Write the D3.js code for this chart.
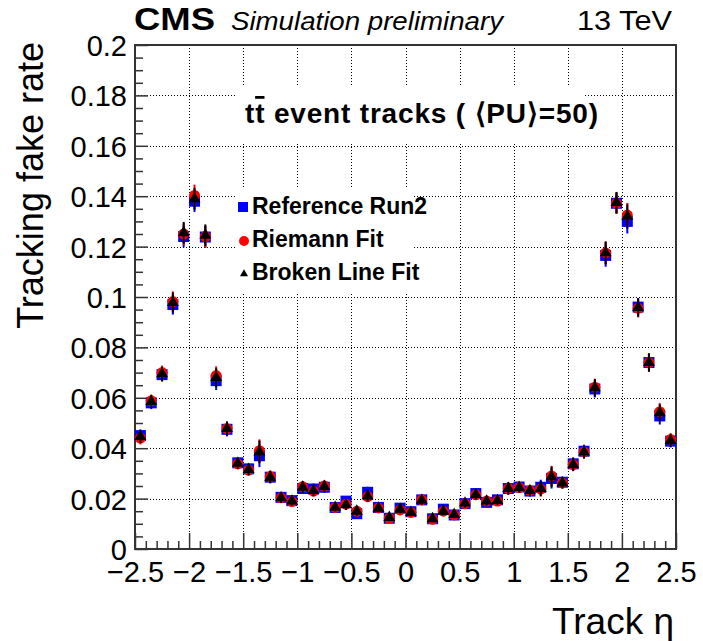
<!doctype html>
<html>
<head>
<meta charset="utf-8">
<script src="https://d3js.org/d3.v7.min.js"></script>
<style>
    body { margin: 0; background: #fff; }
    text { font-family: "Liberation Sans", Arial, Helvetica, sans-serif; fill: #000; }
</style>
</head>
<body>
<svg id="chart" width="703" height="641"></svg>
<script>
    // bin centres in eta (50 bins of 0.1)
    var eta = [-2.45, -2.35, -2.25, -2.15, -2.05, -1.95, -1.85, -1.75, -1.65, -1.55,
               -1.45, -1.35, -1.25, -1.15, -1.05, -0.95, -0.85, -0.75, -0.65, -0.55,
               -0.45, -0.35, -0.25, -0.15, -0.05, 0.05, 0.15, 0.25, 0.35, 0.45,
               0.55, 0.65, 0.75, 0.85, 0.95, 1.05, 1.15, 1.25, 1.35, 1.45,
               1.55, 1.65, 1.75, 1.85, 1.95, 2.05, 2.15, 2.25, 2.35, 2.45];

    var refRun2 = [0.0450, 0.0580, 0.0692, 0.0970, 0.1240, 0.1380, 0.1238, 0.0668, 0.0475, 0.0342,
                   0.0318, 0.0370, 0.0285, 0.0205, 0.0192, 0.0240, 0.0238, 0.0245, 0.0165, 0.0190,
                   0.0140, 0.0225, 0.0165, 0.0122, 0.0162, 0.0148, 0.0195, 0.0120, 0.0158, 0.0135,
                   0.0180, 0.0220, 0.0185, 0.0195, 0.0240, 0.0246, 0.0230, 0.0245, 0.0280, 0.0265,
                   0.0338, 0.0388, 0.0635, 0.1165, 0.1372, 0.1300, 0.0960, 0.0740, 0.0528, 0.0428];

    var riemannFit = [0.0440, 0.0588, 0.0700, 0.0982, 0.1250, 0.1403, 0.1240, 0.0688, 0.0478, 0.0338,
                      0.0313, 0.0390, 0.0288, 0.0203, 0.0188, 0.0247, 0.0230, 0.0250, 0.0165, 0.0178,
                      0.0150, 0.0208, 0.0163, 0.0122, 0.0155, 0.0145, 0.0195, 0.0118, 0.0150, 0.0135,
                      0.0180, 0.0215, 0.0190, 0.0190, 0.0240, 0.0244, 0.0232, 0.0238, 0.0290, 0.0262,
                      0.0335, 0.0385, 0.0642, 0.1175, 0.1372, 0.1325, 0.0955, 0.0740, 0.0545, 0.0435];

    var brokenLineFit = [0.0446, 0.0585, 0.0695, 0.0978, 0.1255, 0.1390, 0.1245, 0.0680, 0.0478, 0.0340,
                         0.0315, 0.0385, 0.0285, 0.0203, 0.0190, 0.0245, 0.0232, 0.0248, 0.0165, 0.0175,
                         0.0150, 0.0210, 0.0162, 0.0125, 0.0158, 0.0145, 0.0193, 0.0120, 0.0150, 0.0137,
                         0.0182, 0.0216, 0.0190, 0.0192, 0.0240, 0.0244, 0.0232, 0.0240, 0.0287, 0.0262,
                         0.0335, 0.0385, 0.0640, 0.1175, 0.1375, 0.1320, 0.0958, 0.0740, 0.0540, 0.0430];

    // statistical uncertainty per bin
    var errors = [0.0025, 0.0025, 0.0028, 0.0040, 0.0043, 0.0043, 0.0043, 0.0037, 0.0028, 0.0022,
                  0.0022, 0.0045, 0.0024, 0.0020, 0.0018, 0.0022, 0.0022, 0.0022, 0.0016, 0.0020,
                  0.0018, 0.0022, 0.0016, 0.0015, 0.0016, 0.0015, 0.0018, 0.0014, 0.0016, 0.0015,
                  0.0018, 0.0020, 0.0018, 0.0018, 0.0024, 0.0020, 0.0022, 0.0030, 0.0040, 0.0022,
                  0.0026, 0.0026, 0.0034, 0.0045, 0.0042, 0.0048, 0.0036, 0.0036, 0.0034, 0.0025];

    var xTicks = [-2.5, -2, -1.5, -1, -0.5, 0, 0.5, 1, 1.5, 2, 2.5];
    var xTickLabels = ["\u22122.5", "\u22122", "\u22121.5", "\u22121", "\u22120.5", "0", "0.5", "1", "1.5", "2", "2.5"];
    var yTicks = [0, 0.02, 0.04, 0.06, 0.08, 0.1, 0.12, 0.14, 0.16, 0.18, 0.2];
    var yTickLabels = ["0", "0.02", "0.04", "0.06", "0.08", "0.1", "0.12", "0.14", "0.16", "0.18", "0.2"];

    var seriesNames = ["Reference Run2", "Riemann Fit", "Broken Line Fit"];

    var svg = d3.select("#chart"),
        pLeft = 135, pRight = 676, pTop = 45, pBottom = 549;

    var x = d3.scaleLinear().domain([-2.5, 2.5]).range([pLeft, pRight]),
        y = d3.scaleLinear().domain([0, 0.2]).range([pBottom, pTop]);

    // grid
    var grid = svg.append("g").attr("stroke", "#000").attr("stroke-width", 1)
                  .attr("stroke-dasharray", "1,2");
    grid.selectAll(".gx").data(xTicks.slice(1, -1)).enter().append("line")
        .attr("x1", function(d) { return Math.round(x(d)) + 0.5; })
        .attr("x2", function(d) { return Math.round(x(d)) + 0.5; })
        .attr("y1", pTop).attr("y2", pBottom);
    grid.selectAll(".gy").data(yTicks.slice(1, -1)).enter().append("line")
        .attr("y1", function(d) { return Math.round(y(d)) + 0.5; })
        .attr("y2", function(d) { return Math.round(y(d)) + 0.5; })
        .attr("x1", pLeft).attr("x2", pRight);

    // white boxes behind the label and legend
    svg.append("rect").attr("x", 237).attr("y", 87).attr("width", 346).attr("height", 55).attr("fill", "#fff");
    svg.append("rect").attr("x", 235).attr("y", 188).attr("width", 178).attr("height", 105).attr("fill", "#fff");

    // axes
    var xMinor = x.ticks(50).filter(function(t) { return xTicks.indexOf(+t.toFixed(2)) < 0; });
    var yMinor = y.ticks(40).filter(function(t) { return yTicks.indexOf(+t.toFixed(3)) < 0; });

    svg.append("g")
       .attr("transform", "translate(0," + pBottom + ")")
       .call(d3.axisBottom(x).tickValues(xTicks).tickSizeInner(-16).tickSizeOuter(0).tickPadding(12)
             .tickFormat(function(d, i) { return xTickLabels[i]; }));
    svg.append("g")
       .attr("transform", "translate(0," + pBottom + ")")
       .call(d3.axisBottom(x).tickValues(xMinor).tickSizeInner(-8).tickSizeOuter(0).tickFormat(""));

    var yAxis = svg.append("g")
       .attr("transform", "translate(" + pLeft + ",0)")
       .call(d3.axisLeft(y).tickValues(yTicks).tickSizeInner(-13).tickSizeOuter(0).tickPadding(8)
             .tickFormat(function(d, i) { return yTickLabels[i]; }));
    svg.append("g")
       .attr("transform", "translate(" + pLeft + ",0)")
       .call(d3.axisLeft(y).tickValues(yMinor).tickSizeInner(-8).tickSizeOuter(0).tickFormat(""));

    svg.selectAll(".domain").remove();
    svg.selectAll(".tick line").attr("stroke", "#333").attr("stroke-width", 1.5);
    svg.selectAll(".tick text").attr("font-size", "29px")
       .attr("font-family", "'Liberation Sans', Arial, sans-serif").attr("fill", "#000");
    yAxis.selectAll(".tick text").attr("dy", "0.36em");

    // frame
    svg.append("rect").attr("x", pLeft).attr("y", pTop)
       .attr("width", pRight - pLeft).attr("height", pBottom - pTop)
       .attr("fill", "none").attr("stroke", "#333").attr("stroke-width", 2);

    // data series
    var rows = eta.map(function(e, i) {
        return { eta: e, ref: refRun2[i], rie: riemannFit[i], bro: brokenLineFit[i], err: errors[i] };
    });

    function errorBars(key, color) {
        svg.append("g").selectAll("line").data(rows).enter().append("line")
           .attr("x1", function(d) { return x(d.eta); })
           .attr("x2", function(d) { return x(d.eta); })
           .attr("y1", function(d) { return y(d[key] - d.err); })
           .attr("y2", function(d) { return y(d[key] + d.err); })
           .attr("stroke", color).attr("stroke-width", 2);
    }

    errorBars("ref", "#0000ff");
    svg.append("g").selectAll("rect").data(rows).enter().append("rect")
       .attr("x", function(d) { return x(d.eta) - 5.5; })
       .attr("y", function(d) { return y(d.ref) - 5.5; })
       .attr("width", 11).attr("height", 11)
       .attr("fill", "#0000ff");

    errorBars("rie", "#ff0000");
    svg.append("g").selectAll("circle").data(rows).enter().append("circle")
       .attr("cx", function(d) { return x(d.eta); })
       .attr("cy", function(d) { return y(d.rie); })
       .attr("r", 5.5)
       .attr("fill", "#ff0000");

    errorBars("bro", "#000");
    var tri = d3.symbol().type(d3.symbolTriangle).size(62);
    svg.append("g").selectAll("path").data(rows).enter().append("path")
       .attr("d", tri)
       .attr("transform", function(d) { return "translate(" + x(d.eta) + "," + y(d.bro) + ")"; })
       .attr("fill", "#000");

    // legend
    var legend = svg.append("g");
    legend.append("rect").attr("x", 238).attr("y", 202).attr("width", 10).attr("height", 10).attr("fill", "#0000ff");
    legend.append("circle").attr("cx", 244).attr("cy", 241).attr("r", 5).attr("fill", "#ff0000");
    legend.append("path").attr("d", d3.symbol().type(d3.symbolTriangle).size(28))
          .attr("transform", "translate(244,274)").attr("fill", "#000");
    legend.selectAll("text").data(seriesNames).enter().append("text")
          .attr("x", 252)
          .attr("y", function(d, i) { return 214 + i * 33; })
          .attr("font-size", "23px").attr("font-weight", "bold")
          .text(function(d) { return d; });

    // label in plot
    var lbl = svg.append("text").attr("x", 245).attr("y", 123)
       .attr("font-size", "28px").attr("font-weight", "bold")
       .attr("textLength", 353).attr("lengthAdjust", "spacing");
    lbl.append("tspan").text("t");
    lbl.append("tspan").style("text-decoration", "overline").text("t");
    lbl.append("tspan").text(" event tracks ( \u27E8PU\u27E9=50)");

    // header
    svg.append("text").attr("x", 134).attr("y", 30)
       .attr("font-size", "31px").attr("font-weight", "bold")
       .attr("textLength", 81).attr("lengthAdjust", "spacingAndGlyphs")
       .text("CMS");
    svg.append("text").attr("x", 231).attr("y", 30)
       .attr("font-size", "26px").attr("font-style", "italic")
       .attr("textLength", 272).attr("lengthAdjust", "spacingAndGlyphs")
       .text("Simulation preliminary");
    svg.append("text").attr("x", 577).attr("y", 30)
       .attr("font-size", "27px")
       .attr("textLength", 95).attr("lengthAdjust", "spacingAndGlyphs")
       .text("13 TeV");

    // axis titles
    svg.append("text")
       .attr("transform", "translate(43,42) rotate(-90)")
       .attr("text-anchor", "end")
       .attr("font-size", "36px")
       .text("Tracking fake rate");
    svg.append("text").attr("x", 674).attr("y", 634)
       .attr("text-anchor", "end")
       .attr("font-size", "37px")
       .text("Track \u03B7");
</script>
</body>
</html>
